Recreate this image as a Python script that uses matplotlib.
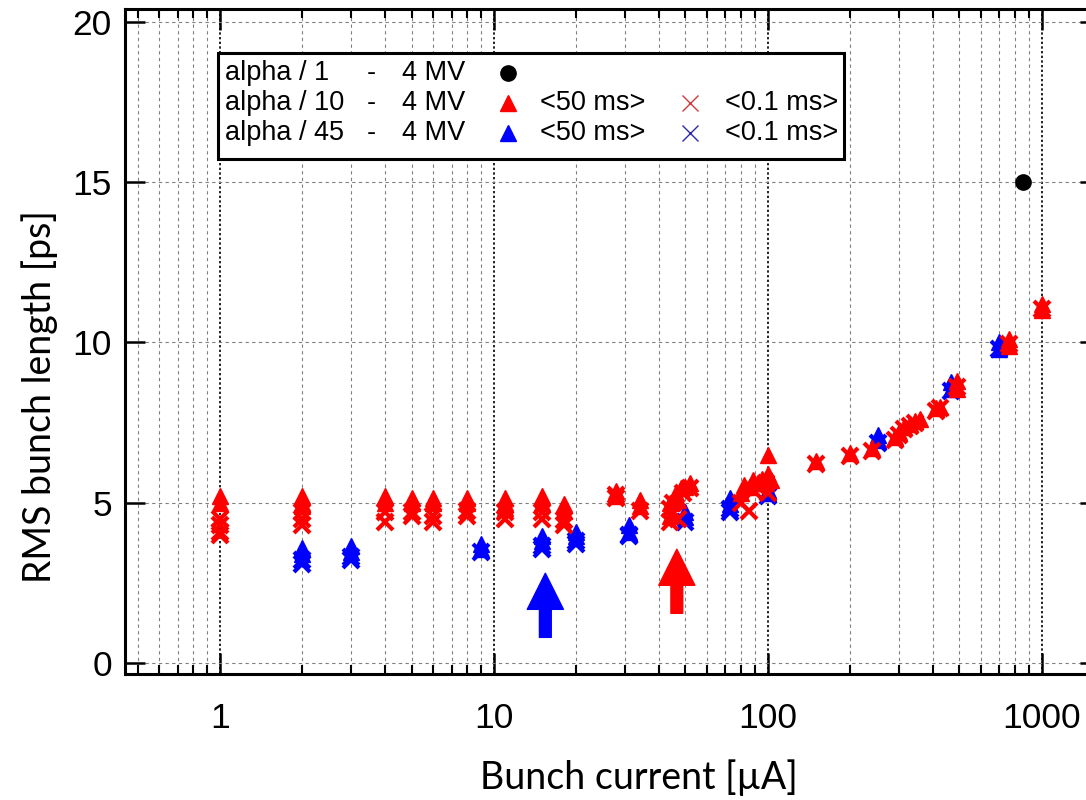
import numpy as np
import matplotlib.pyplot as plt
from matplotlib.patches import Rectangle

plt.rcParams['font.family'] = ['Liberation Sans', 'DejaVu Sans']

# alpha/10, 4 MV : <50 ms> averages (triangles) and <0.1 ms> snapshots (crosses)
a10_avg_I = [1, 1, 2, 2, 2, 4, 4, 5, 5, 6, 6, 8, 8, 11, 11, 11, 15, 15, 18, 18,
             28, 28, 34, 34, 44, 44, 46, 47, 48, 50, 52,
             80, 82, 86, 88, 92, 95, 98, 100, 100, 103,
             150, 200, 240, 290, 300, 315, 330, 345, 360, 410, 425,
             490, 490, 760, 760, 1000, 1000]
a10_avg_sigma = [5.2, 5.0, 5.2, 5.0, 4.9, 5.2, 5.0, 5.15, 5.0, 5.15, 5.0, 5.15, 5.0, 5.15, 5.0, 4.85, 5.2, 5.0, 4.95, 4.75,
                 5.35, 5.2, 5.1, 4.9, 5.0, 4.6, 5.3, 5.1, 5.45, 5.5, 5.6,
                 5.3, 5.55, 5.5, 5.7, 5.6, 5.75, 5.6, 5.9, 6.5, 5.7,
                 6.3, 6.55, 6.7, 7.05, 7.2, 7.35, 7.45, 7.55, 7.6, 7.95, 8.0,
                 8.8, 8.55, 10.1, 9.9, 11.2, 11.0]
a10_fast_I = [1, 1, 1, 1, 2, 2, 2, 4, 4, 5, 5, 6, 6, 8, 8, 11, 11, 15, 15, 18, 18,
              28, 28, 34, 44, 44, 45, 47, 49, 52,
              80, 85, 88, 92, 98, 100,
              150, 200, 240, 290, 300, 315, 330, 345, 410, 425, 490, 760, 1000]
a10_fast_sigma = [4.5, 4.3, 4.1, 4.0, 4.7, 4.5, 4.3, 4.7, 4.4, 4.7, 4.6, 4.6, 4.4, 4.75, 4.6, 4.7, 4.5, 4.7, 4.5, 4.45, 4.3,
                  5.25, 5.15, 4.75, 4.4, 4.8, 5.0, 4.5, 5.3, 5.45,
                  5.0, 4.75, 5.4, 5.5, 5.6, 5.3,
                  6.2, 6.45, 6.6, 6.95, 7.1, 7.3, 7.4, 7.5, 7.85, 7.95, 8.6, 9.95, 11.05]

# alpha/45, 4 MV
a45_avg_I = [2, 2, 3, 3, 9, 9, 15, 15, 20, 20, 31, 31, 50, 50, 73, 73, 100, 100, 252, 252, 465, 465, 700, 700]
a45_avg_sigma = [3.6, 3.4, 3.65, 3.45, 3.7, 3.55, 3.95, 3.8, 4.1, 3.95, 4.3, 4.1, 4.7, 4.55, 5.15, 4.95,
                 5.4, 5.3, 7.1, 6.95, 8.75, 8.55, 10.0, 9.8]
a45_fast_I = [2, 2, 3, 3, 9, 15, 15, 20, 20, 31, 31, 50, 73, 73, 100, 252, 465, 700]
a45_fast_sigma = [3.2, 3.1, 3.3, 3.2, 3.45, 3.65, 3.55, 3.8, 3.7, 3.95, 4.0, 4.4, 4.8, 4.7, 5.2, 6.85, 8.5, 9.8]

# alpha/1, 4 MV
a1_I = [850]
a1_sigma = [15.0]

# arrows marking the threshold currents: (current, tail, tip)
arrow_blue = (15.4, 0.8, 2.8)
arrow_red = (46.5, 1.55, 3.55)

xticks = [1, 10, 100, 1000]
xticklabels = ['1', '10', '100', '1000']
yticks = [0, 5, 10, 15, 20]

RED = '#ff0000'
BLUE = '#0000ff'
XMIN, XMAX = 0.448, 1630

fig = plt.figure(figsize=(10.86, 8.0), dpi=100)
ax = fig.add_axes([124.5 / 1086, 1 - 674 / 800, (1100 - 124.5) / 1086, 665 / 800])

ax.set_xscale('log')
ax.set_xlim(XMIN, XMAX)
ax.set_ylim(-0.343, 20.40)

ax.set_xticks(xticks, xticklabels)
minor = [m * 10.0 ** d for d in range(-1, 4) for m in range(2, 10)]
ax.set_xticks([v for v in minor if XMIN < v < XMAX], minor=True)
ax.set_yticks(yticks)
ax.yaxis.set_minor_locator(plt.NullLocator())

ax.tick_params(axis='both', which='major', direction='in', labelsize=25.5,
               top=True, right=True, width=1.8)
ax.tick_params(axis='x', which='major', length=15, pad=20)
ax.tick_params(axis='y', which='major', length=14.5, pad=9)
ax.tick_params(axis='x', which='minor', direction='in', length=6.5, width=1.5, top=True)

for s in ax.spines.values():
    s.set_linewidth(2.2)

ax.grid(which='major', axis='x', color='#222222', linestyle=(0, (1.2, 1.2)), lw=1.4)
ax.grid(which='minor', axis='x', color='#808080', linestyle=(0, (3, 3)), lw=0.8)
ax.grid(which='major', axis='y', color='#808080', linestyle=(0, (3, 3)), lw=0.8)
ax.set_axisbelow(True)

# data
ax.plot(a45_fast_I, a45_fast_sigma, 'x', color=BLUE, ms=11, mew=3, zorder=3)
ax.plot(a45_avg_I, a45_avg_sigma, '^', color=BLUE, ms=11.5, zorder=3)
ax.plot(a10_fast_I, a10_fast_sigma, 'x', color=RED, ms=11, mew=3, zorder=3)
ax.plot(a10_avg_I, a10_avg_sigma, '^', color=RED, ms=11.5, zorder=3)
ax.plot(a1_I, a1_sigma, 'o', color='black', ms=11, zorder=3)

for (xa, y0, y1), c in ((arrow_blue, BLUE), (arrow_red, RED)):
    ax.annotate('', xy=(xa, y1), xytext=(xa, y0),
                arrowprops=dict(arrowstyle='simple,head_length=26,head_width=26,tail_width=8.5',
                                mutation_scale=1, color=c, shrinkA=0, shrinkB=0))

# legend box
ax.add_patch(Rectangle((0.0958, 0.7744), 0.642, 0.1594, transform=ax.transAxes,
                       facecolor='white', edgecolor='black', lw=2.2, zorder=5))
rows = [0.9038, 0.8586, 0.8135]
legend_font = dict(fontsize=19.5, va='center', transform=ax.transAxes, zorder=6)
names = ['alpha / 1', 'alpha / 10', 'alpha / 45']
for yr, name in zip(rows, names):
    ax.text(0.1035, yr, name, **legend_font)
    ax.text(0.248, yr, '-', **legend_font)
    ax.text(0.2842, yr, '4 MV', **legend_font)
ax.plot([0.3935], [rows[0]], 'o', color='black', ms=11, transform=ax.transAxes, zorder=6)
for yr, tri_c, x_c in ((rows[1], RED, '#d03a3a'), (rows[2], BLUE, '#2a2ab0')):
    ax.plot([0.3935], [yr], '^', color=tri_c, ms=11.5, transform=ax.transAxes, zorder=6)
    ax.text(0.426, yr, '<50 ms>', **legend_font)
    ax.plot([0.5795], [yr], 'x', color=x_c, ms=12, mew=1.0, transform=ax.transAxes, zorder=6)
    ax.text(0.6155, yr, '<0.1 ms>', **legend_font)

fig.text(639 / 1086, 1 - 778 / 800, 'Bunch current [µA]', fontsize=27,
         family=['Lato', 'DejaVu Sans'], ha='center', va='center')
fig.text(40 / 1086, 1 - 397 / 800, 'RMS bunch length [ps]', fontsize=27,
         family=['Lato', 'DejaVu Sans'], ha='center', va='center', rotation=90)

fig.savefig('out.png', dpi=100)
